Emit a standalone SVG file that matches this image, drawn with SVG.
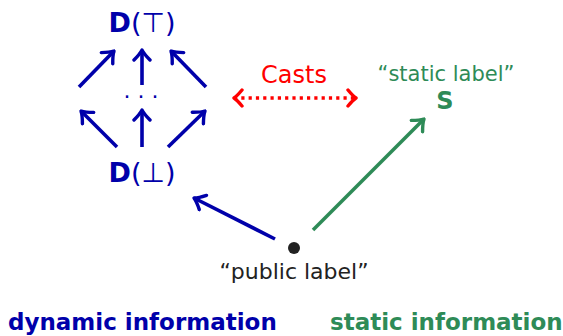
<svg xmlns="http://www.w3.org/2000/svg" width="563" height="336" viewBox="0 0 563 336">
  <style>
    text { font-family: "DejaVu Sans", "Liberation Sans", sans-serif; }
    .blue { fill: #0000AA; }
    .green { fill: #2E8B57; }
    .red { fill: #FF0000; }
    .dark { fill: #222222; }
    .bold { font-weight: bold; }
    .edge { fill: none; stroke-width: 3.6; stroke-linecap: butt; }
    .e-blue { stroke: #0000AA; }
    .e-green { stroke: #2E8B57; }
    .e-red { stroke: #FF0000; stroke-dasharray: 3.2 4.1; }
  </style>
  <defs>
    <marker id="head-blue" viewBox="-12 -10 14 20" markerWidth="14" markerHeight="20" refX="0" refY="0" orient="auto" markerUnits="userSpaceOnUse">
      <path d="M-10,-8 Q-4,-2 0,0 Q-4,2 -10,8" fill="none" stroke="#0000AA" stroke-width="3.4" stroke-linecap="round" stroke-linejoin="round"/>
    </marker>
    <marker id="head-green" viewBox="-12 -10 14 20" markerWidth="14" markerHeight="20" refX="0" refY="0" orient="auto" markerUnits="userSpaceOnUse">
      <path d="M-10,-8 Q-4,-2 0,0 Q-4,2 -10,8" fill="none" stroke="#2E8B57" stroke-width="3.4" stroke-linecap="round" stroke-linejoin="round"/>
    </marker>
    <marker id="head-red" viewBox="-12 -10 14 20" markerWidth="14" markerHeight="20" refX="0" refY="0" orient="auto-start-reverse" markerUnits="userSpaceOnUse">
      <path d="M-8,-8 Q-3,-2 0,0 Q-3,2 -8,8" fill="none" stroke="#FF0000" stroke-width="3.4" stroke-linecap="round" stroke-linejoin="round"/>
    </marker>
  </defs>

  <!-- lattice of dynamic labels -->
  <g id="d-top">
    <text x="142" y="32" text-anchor="middle" font-size="27" class="blue"><tspan class="bold">D</tspan>(⊤)</text>
  </g>
  <g id="d-mid">
    <text x="141" y="104" text-anchor="middle" font-size="22" class="blue">· · ·</text>
  </g>
  <g id="d-bot">
    <text x="142" y="182" text-anchor="middle" font-size="27" class="blue"><tspan class="bold">D</tspan>(⊥)</text>
  </g>

  <!-- casts label -->
  <g id="casts">
    <text x="294" y="83" text-anchor="middle" font-size="24" class="red">Casts</text>
  </g>

  <!-- static label -->
  <g id="static">
    <text x="446" y="81" text-anchor="middle" font-size="21" class="green">“static label”</text>
    <text x="445" y="109" text-anchor="middle" font-size="24" class="green bold">S</text>
  </g>

  <!-- public label -->
  <g id="public">
    <circle cx="294" cy="248" r="6" class="dark"/>
    <text x="294" y="279" text-anchor="middle" font-size="22" class="dark">“public label”</text>
  </g>

  <!-- captions -->
  <g id="caption-dynamic">
    <text x="8" y="330" font-size="23" class="blue bold">dynamic information</text>
  </g>
  <g id="caption-static">
    <text x="330" y="330" font-size="23" class="green bold">static information</text>
  </g>

  <!-- connectors -->
  <g id="connectors">
    <line x1="79" y1="87" x2="114" y2="51" class="edge e-blue" marker-end="url(#head-blue)"/>
    <line x1="142" y1="85" x2="142" y2="50" class="edge e-blue" marker-end="url(#head-blue)"/>
    <line x1="206" y1="87" x2="171" y2="51" class="edge e-blue" marker-end="url(#head-blue)"/>
    <line x1="117" y1="147" x2="81" y2="111" class="edge e-blue" marker-end="url(#head-blue)"/>
    <line x1="142" y1="147" x2="142" y2="110" class="edge e-blue" marker-end="url(#head-blue)"/>
    <line x1="168" y1="147" x2="205" y2="111" class="edge e-blue" marker-end="url(#head-blue)"/>
    <line x1="275" y1="239" x2="194" y2="198" class="edge e-blue" marker-end="url(#head-blue)"/>
    <line x1="313" y1="230" x2="424" y2="119" class="edge e-green" marker-end="url(#head-green)"/>
    <line x1="234" y1="98" x2="356" y2="98" class="edge e-red" marker-start="url(#head-red)" marker-end="url(#head-red)"/>
  </g>
</svg>
